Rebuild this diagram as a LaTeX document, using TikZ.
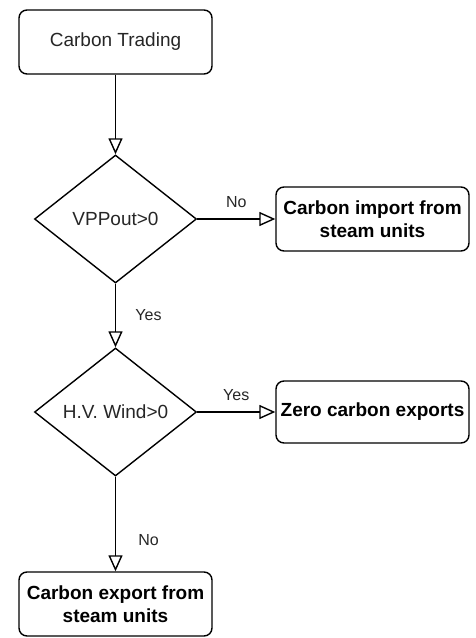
\documentclass[tikz,border=0pt]{standalone}
\usepackage{fontspec}
\setmainfont{Liberation Sans}
\usetikzlibrary{shapes.geometric,arrows.meta}
\begin{document}
\begin{tikzpicture}[x=1pt,y=-1pt,
  line width=1.4pt,
  box/.style={draw, rounded corners=8pt, minimum width=193pt, minimum height=64pt, inner sep=0pt, align=center, font=\fontsize{19}{23}\selectfont},
  dec/.style={draw, diamond, minimum width=162pt, minimum height=128pt, inner sep=0pt, font=\fontsize{19}{23}\selectfont, text=black!85},
  arr/.style={-{Triangle[open,length=16pt,width=14pt,line width=1.4pt]}},
  lab/.style={font=\fontsize{16}{19}\selectfont, inner sep=0pt, text=black!85}]
\useasboundingbox (0,0) rectangle (475,638);
\node[box, text=black!85] (start) at (115.5,42) {Carbon Trading};
\node[dec] (d1) at (115.5,219) {VPPout>0};
\node[dec] (d2) at (115.5,412) {H.V. Wind>0};
\node[box, font=\fontsize{19}{23}\selectfont\bfseries] (imp) at (372.5,219) {Carbon import from\\steam units};
\node[box, minimum height=62pt, font=\fontsize{19}{23}\selectfont\bfseries] (zero) at (372.5,412) {Zero carbon exports};
\node[box, font=\fontsize{19}{23}\selectfont\bfseries] (exp) at (115.5,604) {Carbon export from\\steam units};
\draw[arr] (start) -- (d1);
\draw[arr] (d1.east) -- node[lab, midway, yshift=17pt] (l1) {No} (imp.west);
\draw[arr] (d1.south) -- node[lab, midway, xshift=33pt] (l2) {Yes} (d2.north);
\draw[arr] (d2.east) -- node[lab, midway, yshift=17pt] (l3) {Yes} (zero.west);
\draw[arr] (d2.south) -- node[lab, pos=0.67, xshift=33pt] (l4) {No} (exp.north);
\end{tikzpicture}
\end{document}
